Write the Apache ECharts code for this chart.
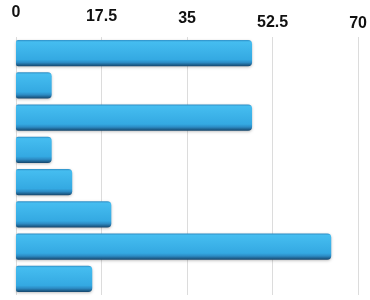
<!DOCTYPE html>
<html><head><meta charset="utf-8">
<script src="https://cdn.jsdelivr.net/npm/echarts@6/dist/echarts.min.js"></script>
<style>html,body{margin:0;padding:0;background:#fff}#c{width:370px;height:300px}</style>
</head><body><div id="c"></div>
<script>
const categories = ['A','B','C','D','E','F','G','H'];
const values = [48.3, 7.3, 48.3, 7.3, 11.5, 19.5, 64.5, 15.6];
const tickValues = [0, 17.5, 35, 52.5, 70];

const chart = echarts.init(document.getElementById('c'));
const lift = [11, 7, 5, 1, 0];
const rich = {};
tickValues.forEach((v, i) => {
  rich['l' + i] = {fontFamily: 'Liberation Sans', fontWeight: 'bold', fontSize: 16, color: '#111', padding: [0, 0, lift[i], 0]};
});
chart.setOption({
  animation: false,
  grid: {left: 16, right: 11, top: 37, bottom: 5},
  xAxis: {
    type: 'value', position: 'top', min: 0, max: 70, interval: 17.5,
    axisLine: {show: false}, axisTick: {show: false},
    splitLine: {show: true, lineStyle: {color: '#dcdcdc', width: 1}},
    axisLabel: {
      margin: 5,
      formatter: (v) => { const i = tickValues.indexOf(v); return '{l' + i + '|' + v + '}'; },
      rich: rich
    }
  },
  yAxis: {
    type: 'category', data: categories, inverse: true,
    axisLine: {show: false}, axisTick: {show: false}, axisLabel: {show: false}
  },
  series: [{
    type: 'bar', data: values, barCategoryGap: '19%',
    itemStyle: {
      borderRadius: [2, 4, 4, 2],
      color: new echarts.graphic.LinearGradient(0, 0, 0, 1, [
        {offset: 0, color: '#2f8fc6'},
        {offset: 0.07, color: '#45bdf0'},
        {offset: 0.75, color: '#34a9e2'},
        {offset: 0.86, color: '#2c8bc4'},
        {offset: 1, color: '#15466c'}
      ]),
      shadowColor: 'rgba(0,0,0,0.25)', shadowBlur: 3, shadowOffsetY: 1
    }
  }]
});
</script></body></html>
